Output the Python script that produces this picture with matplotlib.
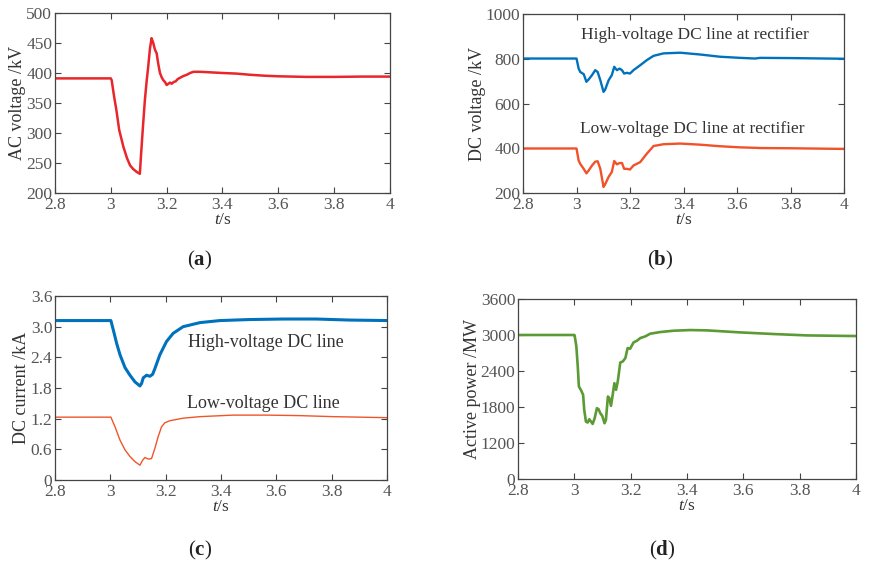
import matplotlib
matplotlib.use('Agg')
import matplotlib.pyplot as plt
from matplotlib.ticker import FixedLocator, FixedFormatter

plt.rcParams['font.family'] = ['Liberation Serif', 'DejaVu Serif']
plt.rcParams['mathtext.fontset'] = 'custom'
plt.rcParams['mathtext.rm'] = 'Liberation Serif'
plt.rcParams['mathtext.it'] = 'Liberation Serif:italic'
plt.rcParams['mathtext.bf'] = 'Liberation Serif:bold'

# (a) AC voltage at the rectifier bus
t_ac = [2.8, 3.0, 3.003, 3.012, 3.02, 3.03, 3.045, 3.058, 3.069, 3.08, 3.093, 3.104,
        3.108, 3.115, 3.122, 3.128, 3.134, 3.140, 3.146, 3.152, 3.158, 3.164, 3.170,
        3.176, 3.182, 3.188, 3.194, 3.2, 3.206, 3.212, 3.218, 3.225, 3.232, 3.24,
        3.248, 3.26, 3.272, 3.284, 3.296, 3.32, 3.36, 3.4, 3.45, 3.5, 3.55, 3.6,
        3.7, 3.8, 3.9, 4.0]
v_ac = [391, 391, 388, 360, 338, 305, 277, 258, 246, 240, 235, 232,
        262, 310, 355, 385, 411, 440, 458, 450, 439, 433, 415,
        400, 393, 388, 385, 380, 382, 384, 382, 385, 386, 390,
        392, 395, 397, 400, 402, 402, 401, 400, 399, 397, 395.5, 394.5,
        393.5, 393.5, 394, 394]

# (b) DC voltages at the rectifier
t_dcv = [2.8, 3.0, 3.008, 3.014, 3.027, 3.037, 3.045, 3.058, 3.07, 3.079, 3.089,
         3.101, 3.107, 3.12, 3.132, 3.141, 3.151, 3.161, 3.17, 3.178, 3.188, 3.2,
         3.213, 3.238, 3.263, 3.288, 3.325, 3.388, 3.462, 3.537, 3.612, 3.668,
         3.686, 3.8, 4.0]
v_high = [801, 801, 756, 741, 731, 697, 707, 727, 749, 741, 704,
          652, 662, 704, 727, 764, 749, 756, 749, 734, 737, 734,
          749, 771, 794, 813, 824, 827, 819, 809, 804, 801,
          804, 803, 800]
v_low = [399, 399, 345, 330, 308, 288, 300, 323, 340, 342, 308,
         227, 239, 272, 294, 343, 328, 334, 334, 308, 308, 305,
         323, 338, 376, 410, 418, 421, 416, 409, 404, 402,
         401, 400, 397]

# (c) DC line currents
t_idc = [2.8, 3.0, 3.002, 3.011, 3.023, 3.035, 3.053, 3.071, 3.089, 3.107, 3.113,
         3.119, 3.131, 3.143, 3.153, 3.161, 3.179, 3.203, 3.227, 3.263, 3.324,
         3.396, 3.504, 3.624, 3.745, 3.865, 4.0]
i_high = [3.12, 3.12, 3.12, 2.93, 2.67, 2.45, 2.20, 2.05, 1.92, 1.84, 1.89,
          2.00, 2.05, 2.03, 2.07, 2.18, 2.45, 2.71, 2.87, 3.00, 3.08,
          3.12, 3.14, 3.15, 3.15, 3.13, 3.12]
t_ilow = [2.8, 3.0, 3.002, 3.017, 3.035, 3.053, 3.071, 3.089, 3.107, 3.117, 3.125,
          3.137, 3.149, 3.161, 3.173, 3.185, 3.197, 3.215, 3.263, 3.324, 3.444,
          3.564, 3.685, 3.805, 4.0]
i_low = [1.23, 1.23, 1.23, 1.04, 0.78, 0.59, 0.46, 0.36, 0.29, 0.39, 0.44,
         0.41, 0.42, 0.62, 0.85, 1.04, 1.12, 1.16, 1.21, 1.24, 1.27,
         1.27, 1.26, 1.24, 1.22]

# (d) Active power
t_p = [2.8, 3.0, 3.001, 3.007, 3.012, 3.016, 3.023, 3.031, 3.035, 3.041, 3.047,
       3.053, 3.059, 3.065, 3.072, 3.08, 3.086, 3.092, 3.099, 3.107, 3.112,
       3.119, 3.124, 3.13, 3.136, 3.142, 3.148, 3.154, 3.163, 3.172, 3.181,
       3.189, 3.198, 3.21, 3.222, 3.234, 3.252, 3.269, 3.305, 3.352, 3.411,
       3.47, 3.589, 3.707, 3.825, 4.0]
p = [3000, 3000, 2990, 2810, 2476, 2142, 2086, 2003, 1752, 1557, 1541,
     1596, 1557, 1518, 1613, 1780, 1763, 1696, 1652, 1529, 1585,
     1975, 1947, 1819, 2003, 2197, 2086, 2225, 2542, 2559, 2615,
     2782, 2771, 2876, 2904, 2949, 2977, 3021, 3049, 3071, 3082,
     3077, 3043, 3016, 2993, 2982]

x_ticks = [2.8, 3.0, 3.2, 3.4, 3.6, 3.8, 4.0]
x_labels = ['2.8', '3', '3.2', '3.4', '3.6', '3.8', '4']

fig = plt.figure(figsize=(8.73, 5.67), dpi=100)
ax_a = fig.add_axes([0.0630, 0.6596, 0.3837, 0.3175])
ax_b = fig.add_axes([0.5991, 0.6596, 0.3677, 0.3157])
ax_c = fig.add_axes([0.0630, 0.1534, 0.3803, 0.3245])
ax_d = fig.add_axes([0.5934, 0.1552, 0.3872, 0.3175])


def style(ax, yticks, ylabels, ylabel):
    ax.set_xlim(2.8, 4.0)
    ax.set_ylim(yticks[0], yticks[-1])
    ax.xaxis.set_major_locator(FixedLocator(x_ticks))
    ax.xaxis.set_major_formatter(FixedFormatter(x_labels))
    ax.yaxis.set_major_locator(FixedLocator(yticks))
    ax.yaxis.set_major_formatter(FixedFormatter(ylabels))
    ax.tick_params(direction='in', top=True, right=True, length=4,
                   width=0.8, color='#444444', labelsize=12.5,
                   labelcolor='#555555')
    ax.tick_params(axis='x', pad=3)
    ax.tick_params(axis='y', pad=2)
    for s in ax.spines.values():
        s.set_color('#444444')
        s.set_linewidth(0.9)
    ax.set_xlabel('$t$/s', fontsize=12.5, color='#333333', labelpad=-1)
    ax.set_ylabel(ylabel, fontsize=13, color='#333333', labelpad=0)


ax_a.plot(t_ac, v_ac, color='#E8262B', lw=1.8)
style(ax_a, [200, 250, 300, 350, 400, 450, 500],
      ['200', '250', '300', '350', '400', '450', '500'], 'AC voltage /kV')

ax_b.plot(t_dcv, v_high, color='#0072BD', lw=1.7)
ax_b.plot(t_dcv, v_low, color='#F0522A', lw=1.7)
style(ax_b, [200, 400, 600, 800, 1000],
      ['200', '400', '600', '800', '1000'], 'DC voltage /kV')
ax_b.text(3.444, 906, 'High-voltage DC line at rectifier', fontsize=12.5,
          color='#333333', ha='center', va='center')
ax_b.text(3.434, 488, 'Low-voltage DC line at rectifier', fontsize=12.5,
          color='#333333', ha='center', va='center')

ax_c.plot(t_idc, i_high, color='#0072BD', lw=2.2)
ax_c.plot(t_ilow, i_low, color='#F0552A', lw=1.0)
style(ax_c, [0, 0.6, 1.2, 1.8, 2.4, 3.0, 3.6],
      ['0', '0.6', '1.2', '1.8', '2.4', '3.0', '3.6'], 'DC current /kA')
ax_c.text(3.561, 2.687, 'High-voltage DC line', fontsize=13,
          color='#333333', ha='center', va='center')
ax_c.text(3.552, 1.50, 'Low-voltage DC line', fontsize=13,
          color='#333333', ha='center', va='center')

ax_d.plot(t_p, p, color='#5B9A35', lw=1.9)
# bottom tick sits one step below 1200 but carries the label 0
style(ax_d, [600, 1200, 1800, 2400, 3000, 3600],
      ['0', '1200', '1800', '2400', '3000', '3600'], 'Active power /MW')

for x, y, letter in [(200, 260, 'a'), (660, 260, 'b'), (200, 550, 'c'), (662, 550, 'd')]:
    fig.text(x / 873, 1 - y / 567, r'($\mathbf{%s}$)' % letter, fontsize=15,
             color='#222222', ha='center', va='center')

fig.savefig('out.png', dpi=100, facecolor='white')
